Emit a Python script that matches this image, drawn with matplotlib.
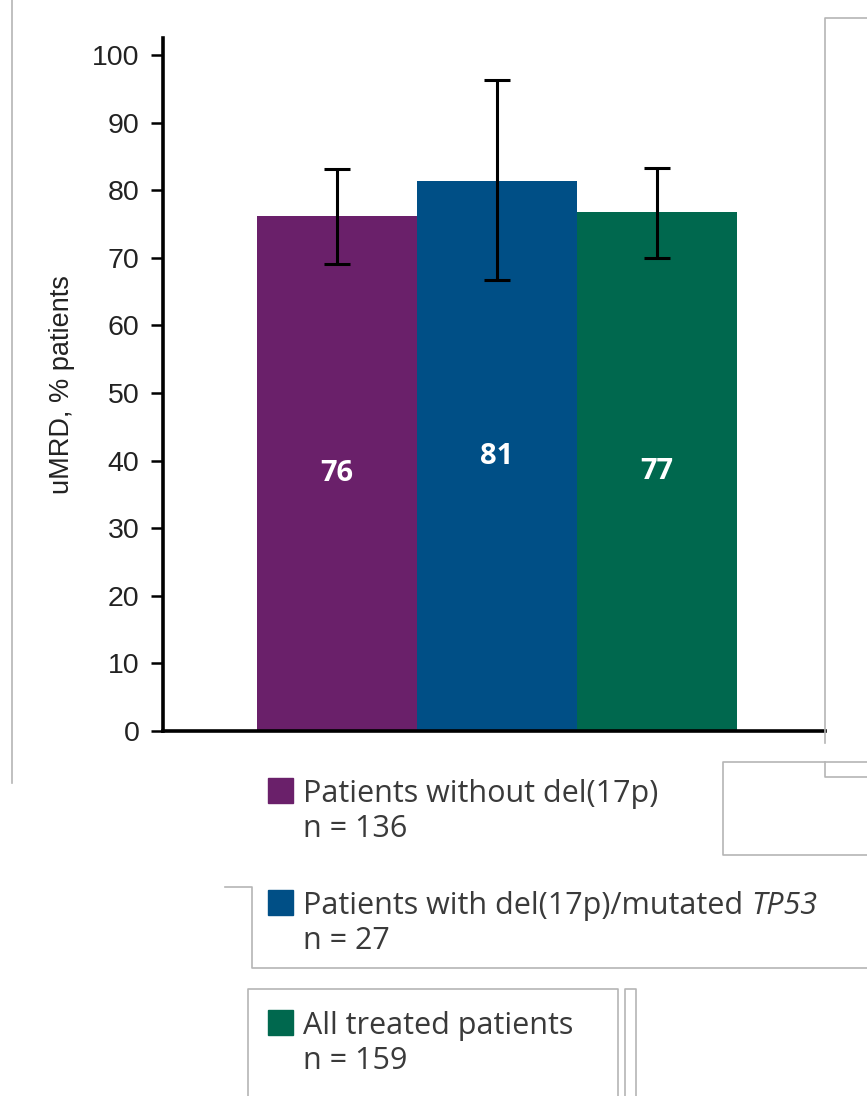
import matplotlib
matplotlib.use("Agg")
import matplotlib.pyplot as plt
from matplotlib.lines import Line2D
from matplotlib.patches import Rectangle

# data
groups = ["Patients without del(17p)",
          "Patients with del(17p)/mutated ",
          "All treated patients"]
gene = ["", "TP53", ""]  # italic part of the label
n_patients = [136, 27, 159]
umrd = [76.2, 81.3, 76.8]
ci_low = [69.1, 66.7, 70.0]
ci_high = [83.1, 96.3, 83.3]
colors = ["#6a206a", "#004f86", "#00684e"]

W, H = 867, 1096
fig = plt.figure(figsize=(W / 100, H / 100), dpi=100)


def fx(x):
    return x / W


def fy(y):
    return 1 - y / H


ax = fig.add_axes([fx(163), fy(731), fx(825) - fx(163), fy(38) - fy(731)])

xs = list(range(len(umrd)))
ax.bar(xs, umrd, width=1.0, color=colors)
yerr = [[v - lo for v, lo in zip(umrd, ci_low)],
        [hi - v for v, hi in zip(umrd, ci_high)]]
ax.errorbar(xs, umrd, yerr=yerr, fmt="none", ecolor="black",
            elinewidth=2.2, capsize=9.4, capthick=2.2)

for x, v in zip(xs, umrd):
    ax.text(x, v / 2, f"{round(v)}", color="white", ha="center", va="center",
            fontsize=21, fontweight="bold", family="Open Sans")

ax.set_xlim(-1.086, 3.051)
ax.set_ylim(0, 102.5)
ax.set_yticks(range(0, 101, 10))
ax.set_xticks([])
for s in ["top", "right"]:
    ax.spines[s].set_visible(False)
ax.spines["left"].set_linewidth(2.6)
ax.spines["bottom"].set_linewidth(2.6)
ax.tick_params(axis="y", length=9, width=1.8, pad=8, labelsize=20.5,
               labelcolor="#222222")
for lab in ax.get_yticklabels():
    lab.set_family("Liberation Sans")
ax.set_ylabel("uMRD, % patients", fontsize=19.5, family="Liberation Sans",
              color="#222222", labelpad=12)

# legend drawn by hand: square patch next to first line, count below
renderer = fig.canvas.get_renderer()
top_px = [778, 890, 1010]
for lbl, g, n, c, t in zip(groups, gene, n_patients, colors, top_px):
    fig.add_artist(Rectangle((fx(268), fy(t + 25)), fx(25), fy(t) - fy(t + 25),
                             transform=fig.transFigure, color=c))
    txt = fig.text(fx(303), fy(t + 24), lbl, fontsize=22, family="Open Sans",
                   color="#3a3a3a", va="baseline")
    if g:
        bb = txt.get_window_extent(renderer)
        fig.text(bb.x1 / W, fy(t + 24), g, fontsize=22, family="Open Sans",
                 style="italic", color="#3a3a3a", va="baseline")
    fig.text(fx(303), fy(t + 59), f"n = {n}", fontsize=22, family="Open Sans",
             color="#3a3a3a", va="baseline")

# grey frame lines around the panels
frames = [
    [(12, 0), (12, 783)],
    [(867, 18), (825, 18), (825, 743)],
    [(825, 762), (825, 777), (867, 777)],
    [(867, 762), (723, 762), (723, 855), (867, 855)],
    [(225, 887), (252, 887), (252, 968), (867, 968)],
    [(248, 1096), (248, 989), (618, 989), (618, 1096)],
    [(625, 1096), (625, 989), (636, 989), (636, 1096)],
]
for pts in frames:
    fig.add_artist(Line2D([fx(p[0]) for p in pts], [fy(p[1]) for p in pts],
                          transform=fig.transFigure, color="#b5b5b5", lw=1.2))

fig.savefig("out.png", dpi=100)
